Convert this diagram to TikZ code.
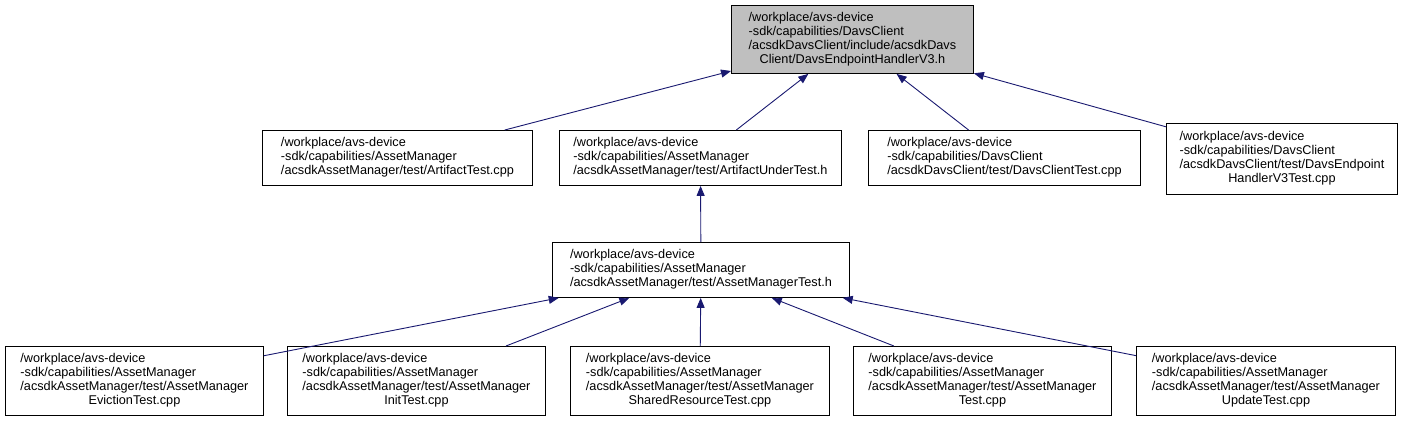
\documentclass[tikz,border=0pt]{standalone}
\usepackage{fontspec}
\setmainfont{Liberation Sans}
\usepackage{tikz}
\usetikzlibrary{arrows.meta}

\definecolor{edgeblue}{HTML}{191970}
\definecolor{hlgray}{HTML}{BFBFBF}

\newcommand{\filelines}[1]{\begin{tabular}{@{}l@{}}#1\end{tabular}}
\newcommand{\lastline}[1]{\multicolumn{1}{@{}c@{}}{#1}}

\tikzset{
  file/.style={draw=black, line width=0.9pt, rectangle, inner sep=0pt,
    anchor=north west, font=\fontsize{12.7}{14}\selectfont},
  edge/.style={draw=edgeblue, line width=0.9pt,
    {Triangle[length=10pt, width=8pt, fill=edgeblue]}-},
}

\begin{document}
\begin{tikzpicture}[x=1pt, y=1pt]
    \useasboundingbox (0,0) rectangle (1410,-423);

    % ================= header =================
    \node[file, fill=hlgray, minimum width=242pt, minimum height=68pt] (handler) at (731,-5)
        {\filelines{/workplace/avs-device\\-sdk/capabilities/DavsClient\\/acsdkDavsClient/include/acsdkDavs\\\lastline{Client/DavsEndpointHandlerV3.h}}};

    % ================= direct includers =================
    \node[file, minimum width=270pt, minimum height=55pt] (artifact) at (262,-130)
        {\filelines{/workplace/avs-device\\-sdk/capabilities/AssetManager\\/acsdkAssetManager/test/ArtifactTest.cpp}};
    \node[file, minimum width=282pt, minimum height=55pt] (undertest) at (559,-130)
        {\filelines{/workplace/avs-device\\-sdk/capabilities/AssetManager\\/acsdkAssetManager/test/ArtifactUnderTest.h}};
    \node[file, minimum width=272pt, minimum height=55pt] (davstest) at (868,-130)
        {\filelines{/workplace/avs-device\\-sdk/capabilities/DavsClient\\/acsdkDavsClient/test/DavsClientTest.cpp}};
    \node[file, minimum width=231pt, minimum height=71pt] (handlertest) at (1166,-123)
        {\filelines{/workplace/avs-device\\-sdk/capabilities/DavsClient\\/acsdkDavsClient/test/DavsEndpoint\\\lastline{HandlerV3Test.cpp}}};

    % ================= AssetManagerTest.h =================
    \node[file, minimum width=297pt, minimum height=55pt] (amtest) at (552,-242)
        {\filelines{/workplace/avs-device\\-sdk/capabilities/AssetManager\\/acsdkAssetManager/test/AssetManagerTest.h}};

    % ================= test sources =================
    \node[file, minimum width=258pt, minimum height=69pt] (eviction) at (5,-346)
        {\filelines{/workplace/avs-device\\-sdk/capabilities/AssetManager\\/acsdkAssetManager/test/AssetManager\\\lastline{EvictionTest.cpp}}};
    \node[file, minimum width=258pt, minimum height=69pt] (init) at (287,-346)
        {\filelines{/workplace/avs-device\\-sdk/capabilities/AssetManager\\/acsdkAssetManager/test/AssetManager\\\lastline{InitTest.cpp}}};
    \node[file, minimum width=259pt, minimum height=69pt] (shared) at (570,-346)
        {\filelines{/workplace/avs-device\\-sdk/capabilities/AssetManager\\/acsdkAssetManager/test/AssetManager\\\lastline{SharedResourceTest.cpp}}};
    \node[file, minimum width=258pt, minimum height=69pt] (amcpp) at (853,-346)
        {\filelines{/workplace/avs-device\\-sdk/capabilities/AssetManager\\/acsdkAssetManager/test/AssetManager\\\lastline{Test.cpp}}};
    \node[file, minimum width=259pt, minimum height=69pt] (update) at (1136,-346)
        {\filelines{/workplace/avs-device\\-sdk/capabilities/AssetManager\\/acsdkAssetManager/test/AssetManager\\\lastline{UpdateTest.cpp}}};

    % ================= include edges =================
    \draw[edge] (handler) -- (artifact);
    \draw[edge] (handler) -- (undertest);
    \draw[edge] (handler) -- (davstest);
    \draw[edge] (handler) -- (handlertest);
    \draw[edge] (undertest) -- (amtest);
    \draw[edge] (amtest) -- (eviction);
    \draw[edge] (amtest) -- (init);
    \draw[edge] (amtest) -- (shared);
    \draw[edge] (amtest) -- (amcpp);
    \draw[edge] (amtest) -- (update);

\end{tikzpicture}
\end{document}
